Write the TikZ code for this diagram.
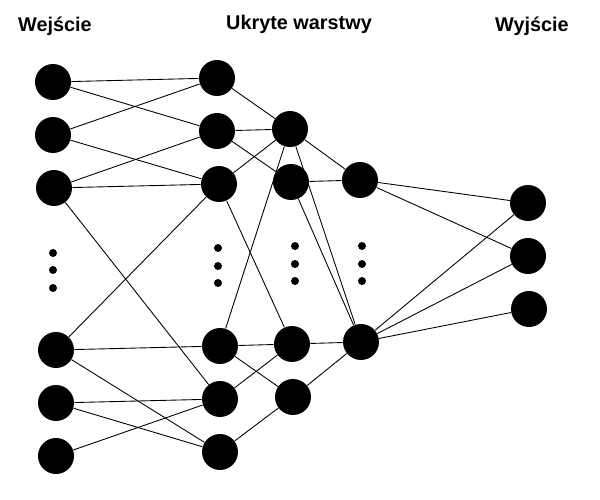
\documentclass[tikz,border=0pt]{standalone}
\usepackage{fontspec}
\setmainfont{Liberation Sans}
\begin{document}
\begin{tikzpicture}[x=0.02cm,y=-0.02cm,
  neuron/.style={circle,fill=black,minimum width=0.70cm,minimum height=0.72cm,inner sep=0pt},
  kropka/.style={circle,fill=black,minimum size=0.16cm,inner sep=0pt},
  naglowek/.style={anchor=base,font=\bfseries\fontsize{11.3}{13}\selectfont},
  polaczenie/.style={line width=0.5pt}]
  \useasboundingbox (0,0) rectangle (600,500);
  \node[naglowek] (tw) at (55,32) {Wejście};
  \node[naglowek] (tu) at (299,30) {Ukryte warstwy};
  \node[naglowek] (ty) at (532,32) {Wyjście};

  % warstwy
  \foreach \n/\x/\y in {i1/53/82, i2/53/135, i3/54/188, i4/56/350, i5/56/403, i6/56/456,
      a1/217/78, a2/217/131, a3/219/184, a4/220/346, a5/220/399, a6/220/452,
      b1/290/129, b2/291/182, b3/292/344, b4/293/397,
      c1/360/180, c2/361/342,
      o1/528/203, o2/528/256, o3/529/309}
    \node[neuron] (\n) at (\x,\y) {};
  \foreach \n/\x/\y in {k1/53/253, k2/53/270, k3/53/288, k4/218/248, k5/218/266, k6/218/283,
      k7/295/246, k8/295/264, k9/295/281, k10/362/246, k11/362/264, k12/362/281}
    \node[kropka] (\n) at (\x,\y) {};

  \foreach \p/\q in {i1/a1, i1/a2, i2/a1, i2/a3, i3/a2, i3/a3, i3/a5,
      i4/a3, i4/a4, i4/a6, i5/a5, i5/a6, i6/a5,
      a1/b1, a2/b1, a2/b2, a3/b1, a3/b3, a4/b1, a4/b3, a4/b4, a5/b3, a6/b4,
      b1/c1, b1/c2, b2/c1, b2/c2, b3/c2, b4/c2,
      c1/o1, c1/o2, c2/o1, c2/o2, c2/o3}
    \draw[polaczenie] (\p) -- (\q);
\end{tikzpicture}
\end{document}
